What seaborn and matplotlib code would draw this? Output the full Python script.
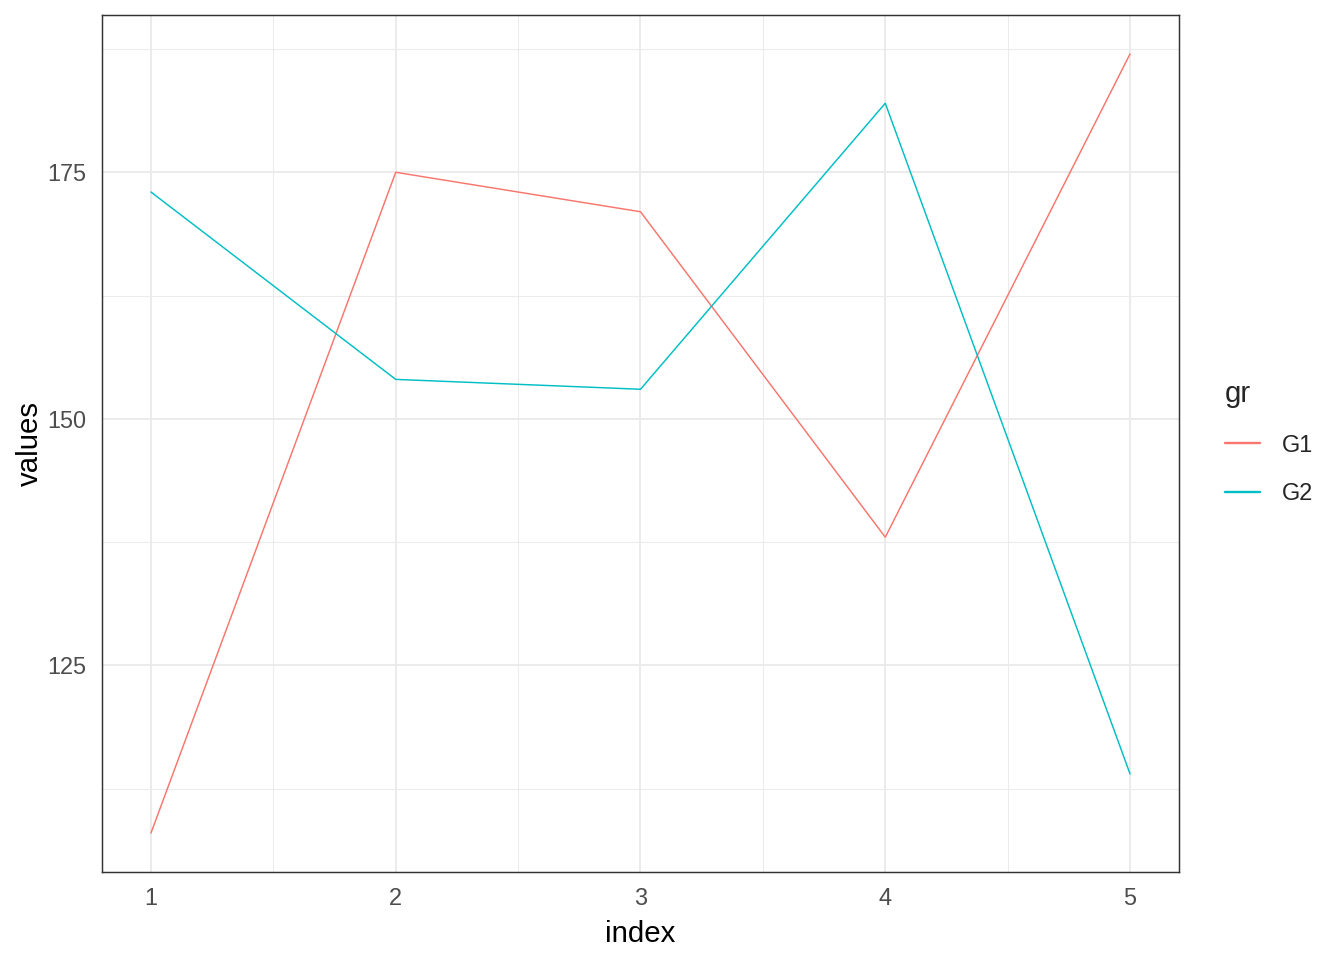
import pandas as pd
import numpy as np
import matplotlib
matplotlib.use("Agg")
import matplotlib.pyplot as plt
import seaborn as sns

# data
index = [1, 2, 3, 4, 5]
g1 = [108, 175, 171, 138, 187]
g2 = [173, 154, 153, 182, 114]

df = pd.DataFrame({
    'index': index + index,
    'values': g1 + g2,
    'gr': ['G1'] * 5 + ['G2'] * 5
})

sns.set_style("white")
plt.rcParams['font.family'] = ['Liberation Sans', 'DejaVu Sans']

fig = plt.figure(figsize=(7, 5), dpi=192)
ax = fig.add_axes([102 / 1344, 1 - 872 / 960, (1179 - 102) / 1344, (872 - 15) / 960])

sns.lineplot(data=df, x='index', y='values', hue='gr',
             palette=['#F8766D', '#00BFC4'], linewidth=0.55, ax=ax,
             legend=False, estimator=None)

# ggplot-like limits (5% expansion)
lo, hi = min(g1 + g2), max(g1 + g2)
pad = (hi - lo) * 0.05
ax.set_ylim(lo - pad, hi + pad)
ax.set_xlim(1 - 0.2, 5 + 0.2)

ax.set_xticks(index)
ax.set_yticks([125, 150, 175])
ax.set_xticks([1.5, 2.5, 3.5, 4.5], minor=True)
ax.set_yticks([112.5, 137.5, 162.5, 187.5], minor=True)
ax.grid(True, which='major', color='#EBEBEB', linewidth=0.75)
ax.grid(True, which='minor', color='#EBEBEB', linewidth=0.4)
ax.set_axisbelow(True)

for s in ax.spines.values():
    s.set_color('#333333')
    s.set_linewidth(0.55)

ax.tick_params(axis='both', which='major', direction='out', length=2.75,
               width=0.55, color='#333333', labelcolor='#4D4D4D',
               labelsize=8.8, pad=3.0)
ax.tick_params(axis='both', which='minor', length=0)

ax.set_xlabel('index', fontsize=11, color='black', labelpad=3.5)
ax.set_ylabel('values', fontsize=11, color='black', labelpad=1.5)

# legend to the right, like ggplot
from matplotlib.lines import Line2D
handles = [Line2D([], [], color='#F8766D', linewidth=0.9),
           Line2D([], [], color='#00BFC4', linewidth=0.9)]
leg = fig.legend(handles, ['G1', 'G2'], title='gr', loc='center left',
                 bbox_to_anchor=(1204 / 1344, 0.539), frameon=False,
                 fontsize=8.8, title_fontsize=11, handlelength=1.5,
                 handletextpad=0.9, labelspacing=1.1, alignment='left')

fig.savefig('out.png', dpi=192)
